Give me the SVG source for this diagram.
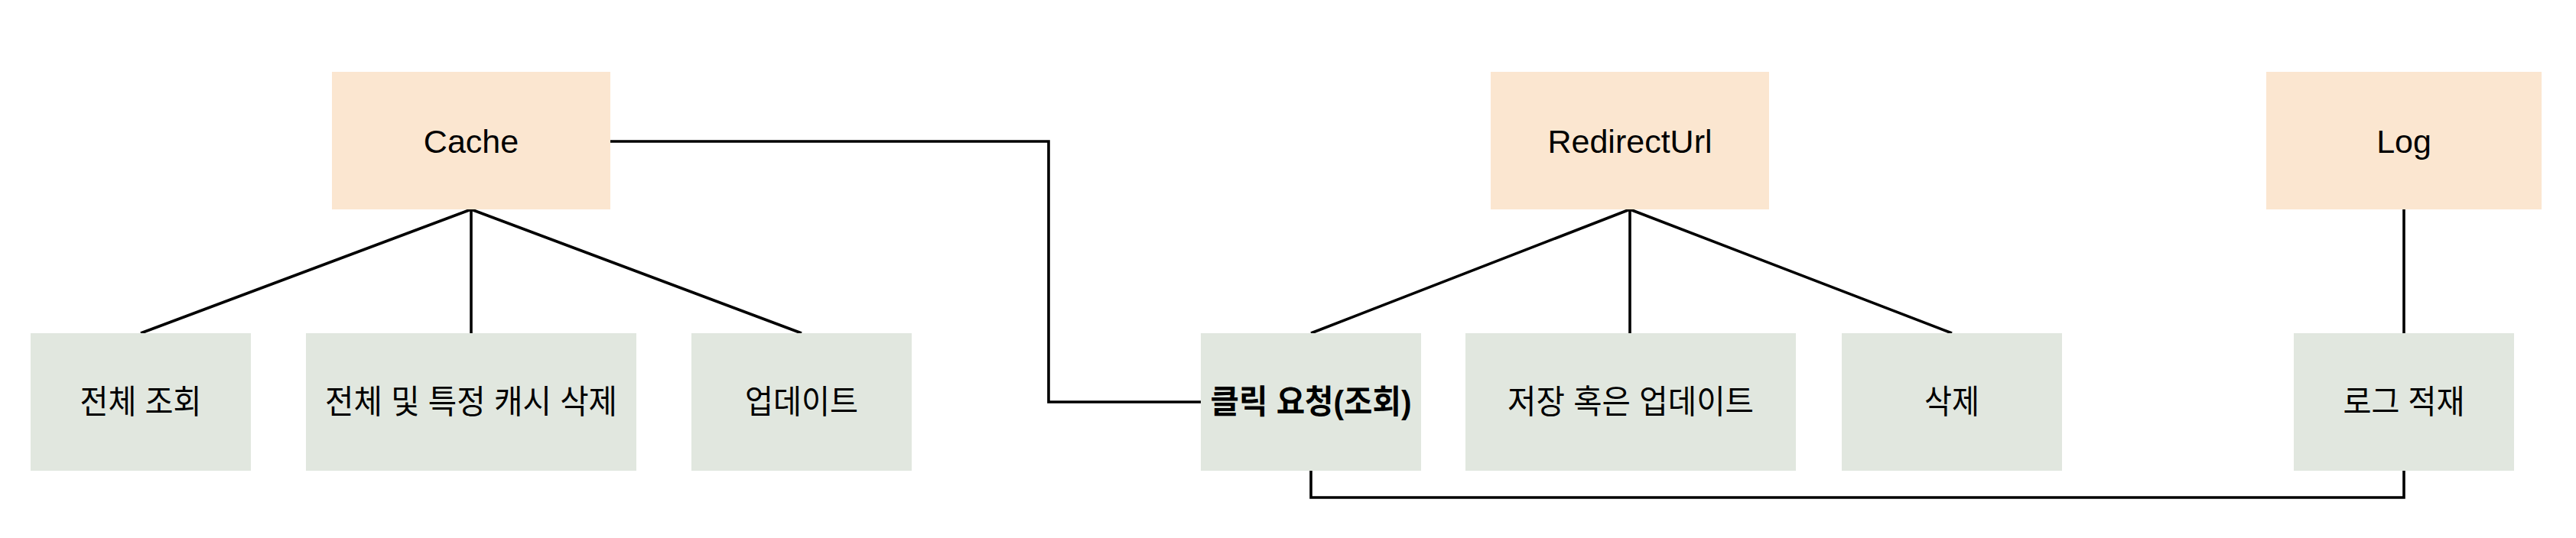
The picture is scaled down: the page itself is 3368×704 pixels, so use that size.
<svg xmlns="http://www.w3.org/2000/svg" width="3368" height="704" viewBox="0 0 3368 704">
<style>
.top{fill:#fbe6d0}
.bot{fill:#e1e7df}
.t{font-family:"Liberation Sans","Noto Sans CJK KR",sans-serif;font-size:43px;fill:#000;text-anchor:middle}
.b{font-weight:bold}
.c{fill:none;stroke:#000;stroke-width:3.6}
</style>
<rect width="3368" height="704" fill="#fff"/>
<g id="connectors">
<path class="c" d="M616,274 L184,436"/>
<path class="c" d="M616,274 L616,436"/>
<path class="c" d="M616,274 L1048,436"/>
<path class="c" d="M798,185 L1371,185 L1371,526 L1570,526"/>
<path class="c" d="M2131,274 L1714,436"/>
<path class="c" d="M2131,274 L2131,436"/>
<path class="c" d="M2131,274 L2552,436"/>
<path class="c" d="M3143,274 L3143,436"/>
<path class="c" d="M1714,616 L1714,651 L3143,651 L3143,616"/>
</g>
<g id="cache"><rect class="top" x="434" y="94" width="364" height="180"/><text class="t" x="616" y="200">Cache</text></g>
<g id="redirecturl"><rect class="top" x="1949" y="94" width="364" height="180"/><text class="t" x="2131" y="200">RedirectUrl</text></g>
<g id="log"><rect class="top" x="2963" y="94" width="360" height="180"/><text class="t" x="3143" y="200">Log</text></g>
<g id="read-all"><rect class="bot" x="40" y="436" width="288" height="180"/><text class="t" x="184" y="541" textLength="159" lengthAdjust="spacingAndGlyphs">전체 조회</text></g>
<g id="delete-cache"><rect class="bot" x="400" y="436" width="432" height="180"/><text class="t" x="616" y="541" textLength="382" lengthAdjust="spacingAndGlyphs">전체 및 특정 캐시 삭제</text></g>
<g id="update"><rect class="bot" x="904" y="436" width="288" height="180"/><text class="t" x="1048" y="541" textLength="148" lengthAdjust="spacingAndGlyphs">업데이트</text></g>
<g id="click"><rect class="bot" x="1570" y="436" width="288" height="180"/><text class="t b" x="1714" y="541" textLength="263" lengthAdjust="spacingAndGlyphs">클릭 요청(조회)</text></g>
<g id="save-update"><rect class="bot" x="1916" y="436" width="432" height="180"/><text class="t" x="2132" y="541" textLength="322" lengthAdjust="spacingAndGlyphs">저장 혹은 업데이트</text></g>
<g id="delete"><rect class="bot" x="2408" y="436" width="288" height="180"/><text class="t" x="2552" y="541" textLength="72" lengthAdjust="spacingAndGlyphs">삭제</text></g>
<g id="log-write"><rect class="bot" x="2999" y="436" width="288" height="180"/><text class="t" x="3143" y="541" textLength="159" lengthAdjust="spacingAndGlyphs">로그 적재</text></g>
</svg>
